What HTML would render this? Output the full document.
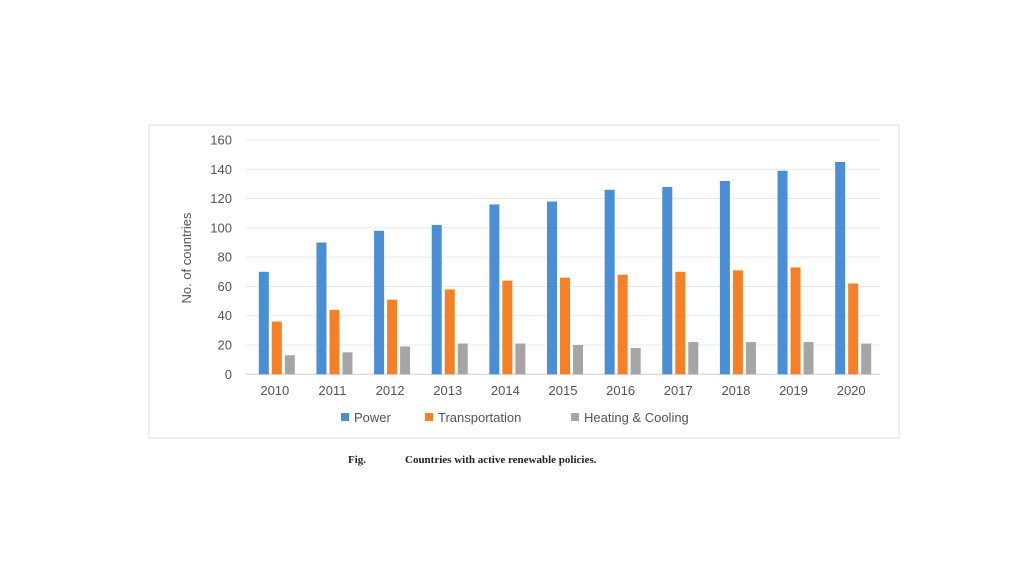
<!DOCTYPE html>
<html><head><meta charset="utf-8"><style>
body{margin:0;background:#fff;width:1024px;height:576px;overflow:hidden;font-family:"Liberation Sans",sans-serif}
</style></head><body>
<svg width="1024" height="576">
<rect x="149" y="125" width="750" height="313" fill="#fff" stroke="#e2e2e2"/>
<g id="grid"></g><g id="bars"></g><g id="labels"></g>
<text transform="translate(191,258) rotate(-90)" text-anchor="middle" font-size="13" fill="#555">No. of countries</text>
<g font-size="13" fill="#555">
<rect x="341" y="413" width="8" height="8" fill="#4a8fd6"/>
<text x="354" y="422">Power</text>
<rect x="425" y="413" width="8" height="8" fill="#f58025"/>
<text x="438" y="422">Transportation</text>
<rect x="571" y="413" width="8" height="8" fill="#a5a5a5"/>
<text x="584" y="422">Heating &amp; Cooling</text>
</g>
<text x="348" y="463" font-family="Liberation Serif,serif" font-weight="bold" font-size="11" fill="#222">Fig.</text>
<text x="405" y="463" font-family="Liberation Serif,serif" font-weight="bold" font-size="11" fill="#222">Countries with active renewable policies.</text>
</svg>
<script>
const categories=["2010","2011","2012","2013","2014","2015","2016","2017","2018","2019","2020"];
const power=[70,90,98,102,116,118,126,128,132,139,145];
const transport=[36,44,51,58,64,66,68,70,71,73,62];
const heating=[13,15,19,21,21,20,18,22,22,22,21];
const yTicks=[0,20,40,60,80,100,120,140,160];
const NS="http://www.w3.org/2000/svg";
const x0=246,x1=880,y0=374.3,y1=140,ymax=160;
const band=(x1-x0)/categories.length;
const ys=v=>y0-(v/ymax)*(y0-y1);
function mk(t,a,p){const e=document.createElementNS(NS,t);for(const k in a)e.setAttribute(k,a[k]);p.appendChild(e);return e;}
const grid=document.getElementById('grid'),bars=document.getElementById('bars'),labels=document.getElementById('labels');
yTicks.forEach(t=>{
 const l=mk('line',{x1:x0,x2:x1,y1:ys(t),y2:ys(t),stroke:t===0?'#d0d0d0':'#e8e8e8'},grid);
 
 
 const tx=mk('text',{x:232,y:ys(t)+4.5,'text-anchor':'end','font-size':'13',fill:'#555'},labels);
 tx.textContent=t;
 
 
});
const series=[[power,'#4a8fd6','power'],[transport,'#f58025','transportation'],[heating,'#a5a5a5','heating']];
categories.forEach((c,i)=>{
 const cx=x0+band*(i+0.5);
 series.forEach((s,j)=>{
  const v=s[0][i];
  const r=mk('rect',{x:cx-16+j*13,y:ys(v),width:10,height:y0-ys(v),fill:s[1]},bars);
  
  
 });
 const tx=mk('text',{x:cx,y:395,'text-anchor':'middle','font-size':'13',fill:'#555'},labels);
 tx.textContent=c;
 
 
});
</script>
</body></html>
